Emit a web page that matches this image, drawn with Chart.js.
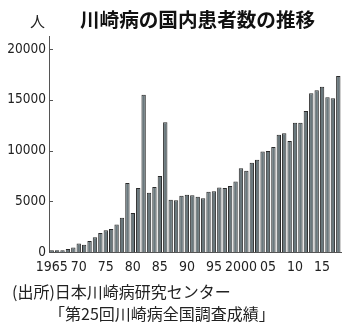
<!DOCTYPE html>
<html>
<head>
<meta charset="utf-8">
<script src="https://cdn.jsdelivr.net/npm/chart.js@4"></script>
<style>
  html, body { margin: 0; padding: 0; background: #fff; }
  #wrap { position: relative; width: 350px; height: 325px; overflow: hidden; background: #fff; }
  #c { position: absolute; left: 0; top: 0; }
  .t { position: absolute; white-space: nowrap; color: #222; font-family: "Noto Sans CJK JP", sans-serif; line-height: 1; }
</style>
</head>
<body>
<div id="wrap">
  <canvas id="c" width="350" height="280"></canvas>
  <div class="t" style="left:30px; top:13px; font-size:15px;">人</div>
  <div class="t" style="left:80px; top:9px; font-size:19.6px; font-weight:bold; color:#111;">川崎病の国内患者数の推移</div>
  <div class="t" style="left:12px; top:283px; font-size:16px;">(出所)日本川崎病研究センター</div>
  <div class="t" style="left:49px; top:305px; font-size:16px;">「第25回川崎病全国調査成績」</div>
</div>
<script>
const years = [1965,1966,1967,1968,1969,1970,1971,1972,1973,1974,1975,1976,1977,1978,1979,1980,1981,1982,1983,1984,1985,1986,1987,1988,1989,1990,1991,1992,1993,1994,1995,1996,1997,1998,1999,2000,2001,2002,2003,2004,2005,2006,2007,2008,2009,2010,2011,2012,2013,2014,2015,2016,2017,2018];
const patients = [180,180,180,300,450,850,720,1080,1450,1880,2150,2270,2720,3380,6800,3850,6300,15500,5850,6400,7500,12800,5150,5100,5550,5650,5600,5450,5300,5950,6000,6350,6300,6500,6950,8250,8000,8800,9100,9900,9950,10350,11550,11700,10950,12750,12750,13900,15650,15950,16300,15250,15150,17350];
const xTickYears = [1965,1970,1975,1980,1985,1990,1995,2000,2005,2010,2015];
const xTickLabels = ['1965','70','75','80','85','90','95','2000','05','10','15'];
const yTicks = [0,5000,10000,15000,20000];

const narrow = "'DejaVu Sans Condensed','Liberation Sans Narrow',sans-serif";

const innerTicks = {
  id: 'innerTicks',
  afterDraw(chart) {
    const y = chart.scales.y, ctx = chart.ctx;
    ctx.save();
    ctx.strokeStyle = '#555';
    ctx.lineWidth = 1;
    yTicks.forEach(v => {
      const py = Math.round(y.getPixelForValue(v)) + 0.5;
      ctx.beginPath();
      ctx.moveTo(y.right, py);
      ctx.lineTo(y.right + 4, py);
      ctx.stroke();
    });
    ctx.restore();
  }
};

new Chart(document.getElementById('c'), {
  type: 'bar',
  data: {
    labels: years.map(String),
    datasets: [{
      data: patients,
      backgroundColor: '#6a787d',
      borderColor: '#2a2a2a',
      borderWidth: 1,
      barPercentage: 0.85,
      categoryPercentage: 0.95
    }]
  },
  options: {
    responsive: false,
    devicePixelRatio: 1,
    animation: false,
    layout: { padding: { top: 36, right: 9, left: 0, bottom: 0 } },
    plugins: { legend: { display: false }, tooltip: { enabled: false }, title: { display: false } },
    scales: {
      x: {
        offset: true,
        grid: { display: false, drawTicks: false },
        border: { display: true, color: '#555', width: 1 },
        ticks: {
          autoSkip: false, maxRotation: 0, minRotation: 0, padding: 7,
          color: '#222', font: { family: narrow, size: 14 },
          callback: function(v, i) {
            const k = xTickYears.indexOf(years[i]);
            return k >= 0 ? xTickLabels[k] : '';
          }
        },
        afterFit(scale) { scale.height = 28; }
      },
      y: {
        min: 0, max: 21300,
        grid: { display: false, drawTicks: false },
        border: { display: true, color: '#555', width: 1 },
        afterBuildTicks(axis) { axis.ticks = yTicks.map(v => ({ value: v })); },
        ticks: { padding: 3, color: '#222', font: { family: narrow, size: 13.5 }, callback: v => String(v) },
        afterFit(scale) { scale.width = 49; }
      }
    }
  },
  plugins: [innerTicks]
});
</script>
</body>
</html>
